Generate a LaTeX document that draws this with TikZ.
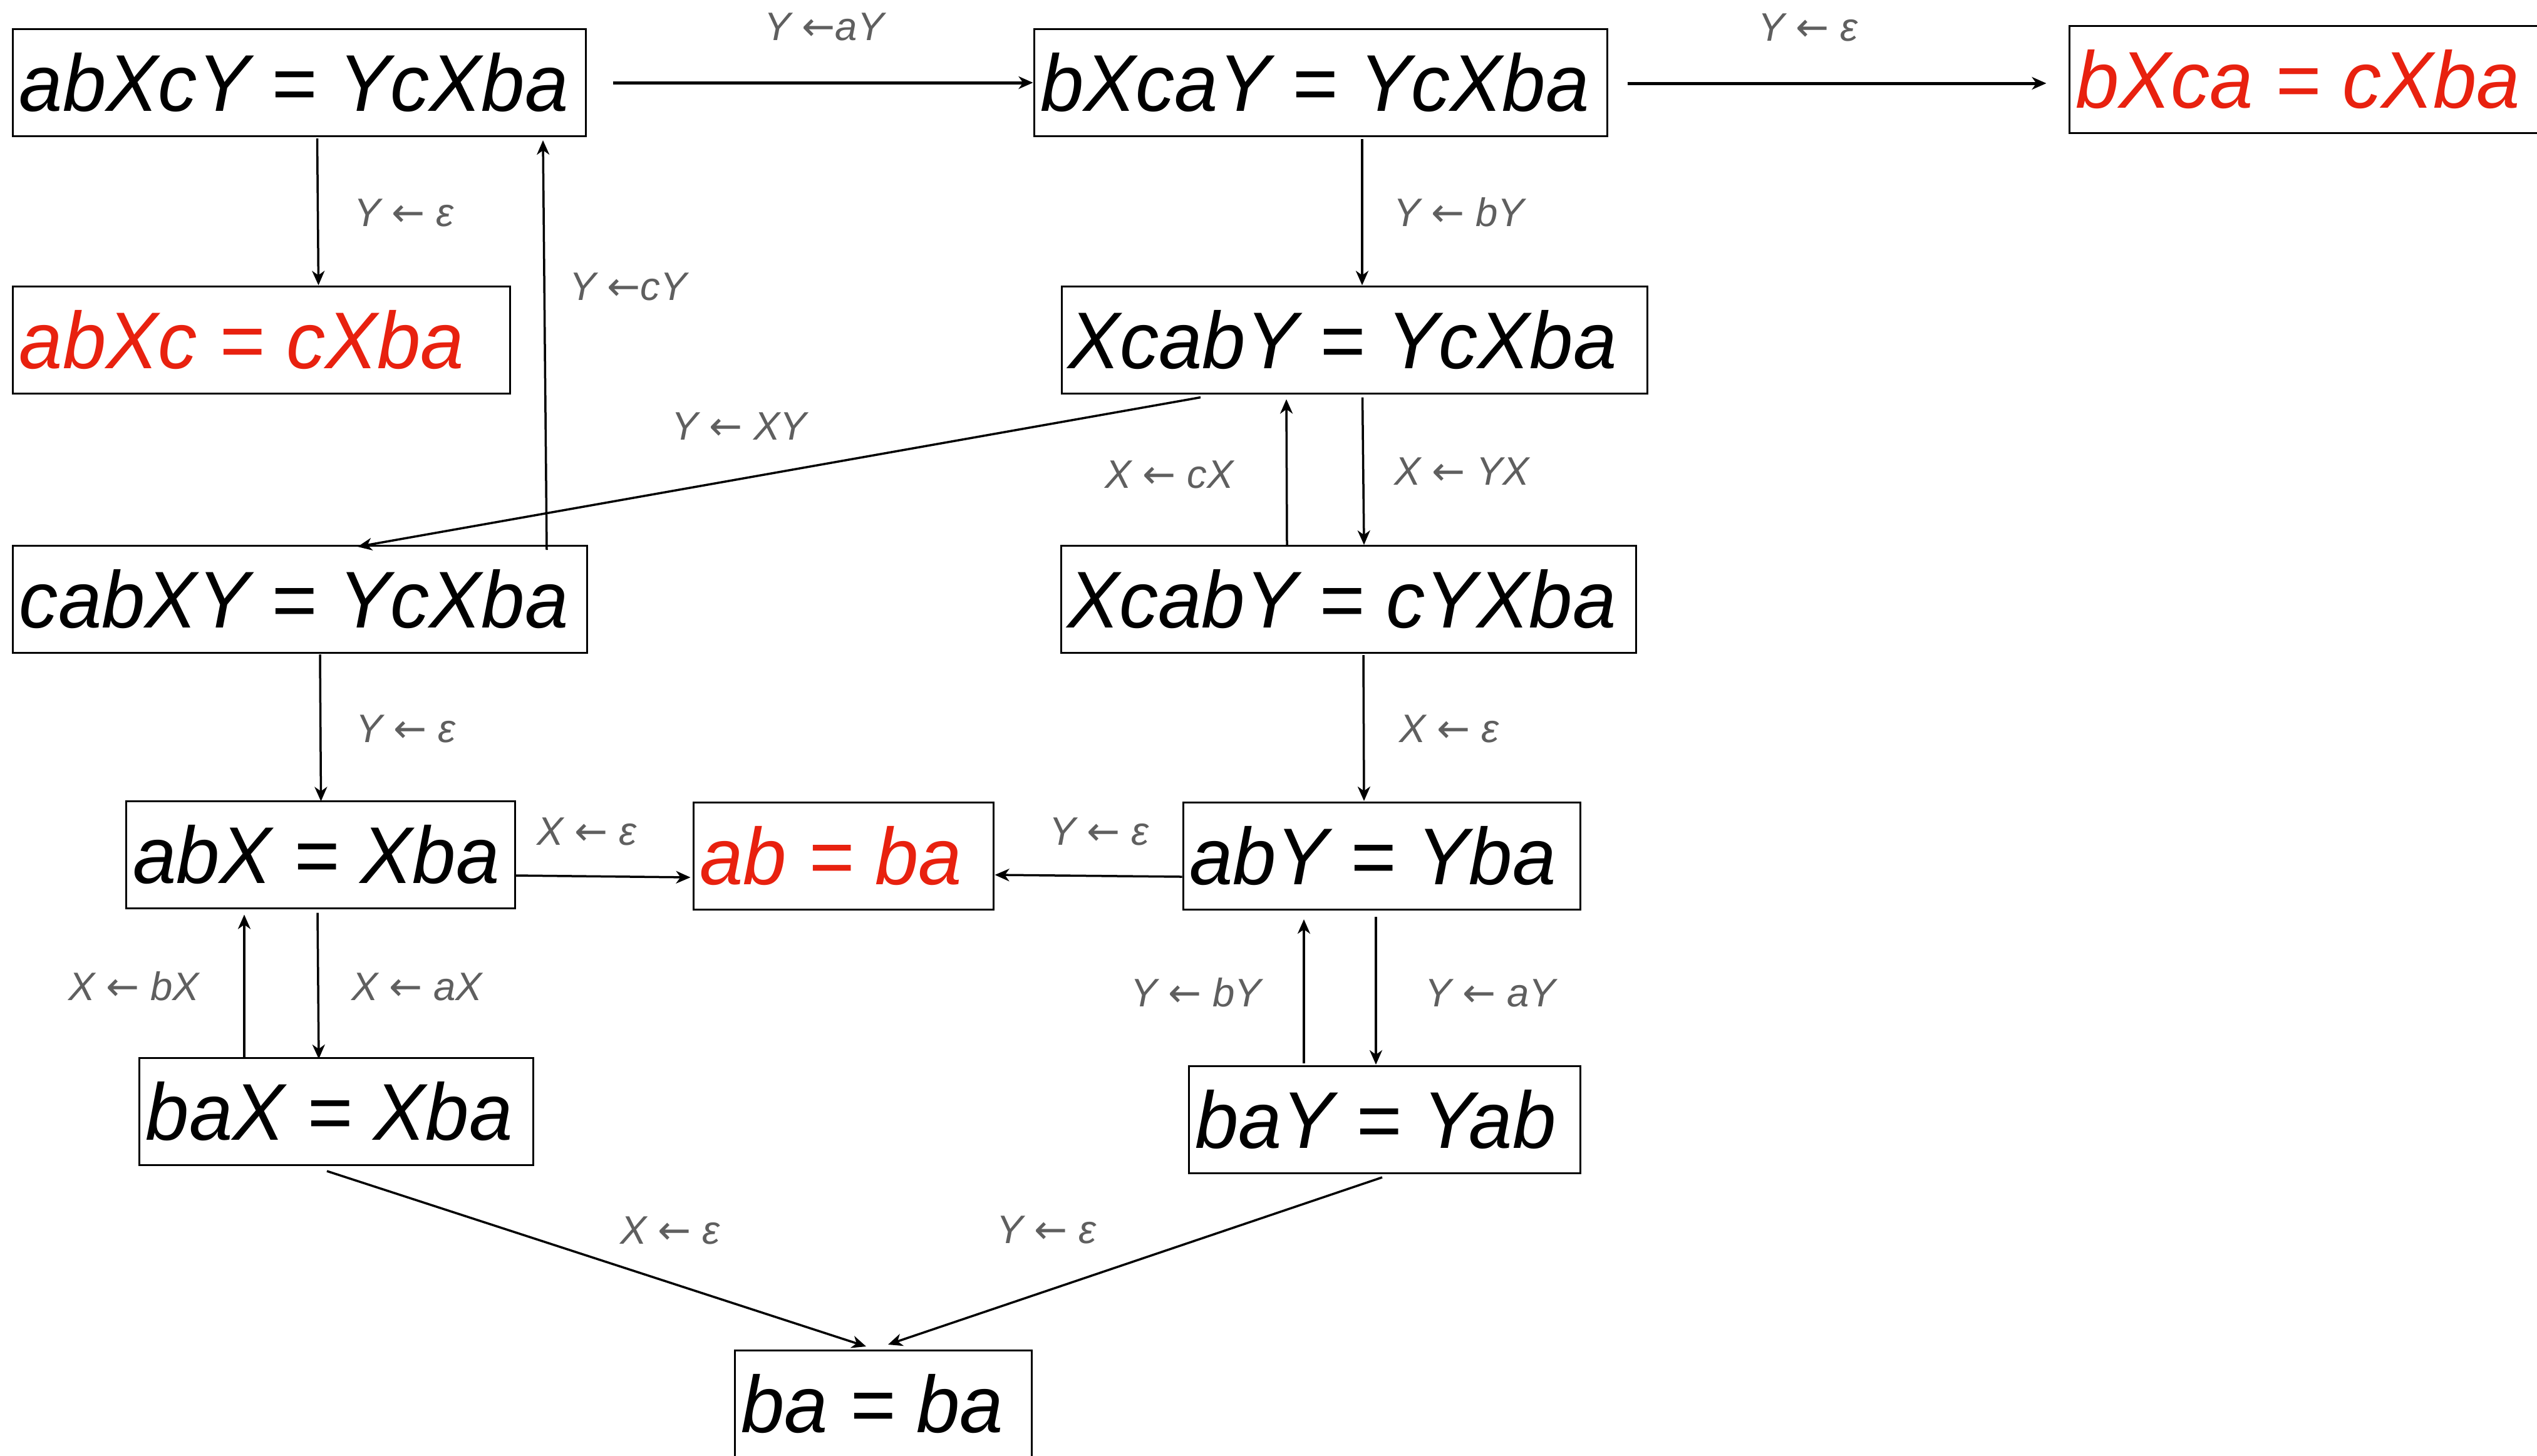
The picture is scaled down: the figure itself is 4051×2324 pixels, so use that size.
\documentclass[tikz,border=0pt]{standalone}
\usepackage{fontspec}
\setmainfont{Liberation Sans}
\newfontfamily\eqfont[FakeStretch=0.97]{Liberation Sans}
\newfontfamily\arrfont{DejaVu Sans}
\usetikzlibrary{arrows.meta,calc}
\definecolor{eqred}{RGB}{232,33,15}
\definecolor{lblgray}{RGB}{95,95,95}
\newcommand\lar{{\upshape\arrfont ←}}
\begin{document}
\begin{tikzpicture}[x=0.2pt,y=-0.2pt,
  eq/.style={draw, line width=0.6pt, inner xsep=2pt, inner ysep=0pt,
    minimum height=34.2pt, font=\eqfont\fontsize{25.7}{30}\selectfont\itshape},
  red/.style={text=eqred},
  lbl/.style={inner sep=0pt, text=lblgray, text height=9pt, text depth=0pt,
    font=\fontsize{12.7}{15}\selectfont\itshape},
  conn/.style={-{Stealth[length=4.6pt,width=4pt,inset=1.4pt]}, line width=0.7pt},
  connb/.style={conn, line width=1pt}]
\useasboundingbox (0,0) rectangle (4051,2324);
% equation boxes
\node[eq] (A) at (478,132)      {\makebox[178.8pt][l]{abXcY = YcXba}};
\node[eq] (B) at (2108.5,132)   {\makebox[179pt][l]{bXcaY = YcXba}};
\node[eq,red] (C) at (3692,127) {\makebox[151.2pt][l]{bXca = cXba}};
\node[eq,red] (D) at (417.5,542.5) {\makebox[154.6pt][l]{abXc = cXba}};
\node[eq] (E) at (2162.5,542.5) {\makebox[183pt][l]{XcabY = YcXba}};
\node[eq] (F) at (479,957)      {\makebox[179.2pt][l]{cabXY = YcXba}};
\node[eq] (G) at (2153,957)     {\makebox[179.6pt][l]{XcabY = cYXba}};
\node[eq] (H) at (512,1364.5)   {\makebox[120pt][l]{abX = Xba}};
\node[eq,red] (I) at (1346.5,1366.5) {\makebox[91.8pt][l]{ab = ba}};
\node[eq] (J) at (2206,1367)    {\makebox[122.8pt][l]{abY = Yba}};
\node[eq] (K) at (537,1775)     {\makebox[121.6pt][l]{baX = Xba}};
\node[eq] (L) at (2210.5,1788)  {\makebox[121pt][l]{baY = Yab}};
\node[eq] (M) at (1410,2242)    {\makebox[90.8pt][l]{ba = ba}};
% connectors
\draw[connb] ($(A.east)+(42,0)$) -- (B.west);
\draw[connb] ($(B.east)+(31,1)$) -- ($(C.west)+(-35,6)$);
\draw[conn] ($(A.south)+(28.5,2)$) -- ($(D.north)+(91,0)$);
\draw[conn] ($(F.north)+(394,8)$) -- ($(A.south)+(389,5)$);
\draw[conn] ($(B.south)+(66.5,3)$) -- ($(E.north)+(12.5,0)$);
\draw[conn] ($(E.south)+(-245.5,5)$) -- ($(F.north)+(92,3)$);
\draw[conn] ($(G.north)+(-98,0)$) -- ($(E.south)+(-108.5,8)$);
\draw[conn] ($(E.south)+(13,5)$) -- ($(G.north)+(25,0)$);
\draw[conn] ($(F.south)+(32,1)$) -- ($(H.north)+(0.5,2)$);
\draw[conn] ($(G.south)+(24,2)$) -- ($(J.north)+(-28,-1)$);
\draw[conn] ($(H.east)+(0,33.5)$) -- ($(I.west)+(-3,34.5)$);
\draw[conn] ($(J.west)+(0,33)$) -- ($(I.east)+(1,30.5)$);
\draw[conn] ($(K.north)+(-147,1)$) -- ($(H.south)+(-122,9)$);
\draw[conn] ($(H.south)+(-5,6)$) -- ($(K.north)+(-28,3)$);
\draw[conn] ($(L.north)+(-128.5,-3)$) -- ($(J.south)+(-124,14)$);
\draw[conn] ($(J.south)+(-9,10)$) -- ($(L.north)+(-13.5,-1)$);
\draw[conn] ($(K.south)+(-15,8)$) -- ($(M.north)+(-27,-5)$);
\draw[conn] ($(L.south)+(-3.5,5)$) -- ($(M.north)+(8,-8)$);
% labels
\node[lbl] (l1)  at (1316,42)   {Y \lar{}aY};
\node[lbl] (l2)  at (2887,43)   {Y \lar{} ε};
\node[lbl] (l3)  at (645,339)   {Y \lar{} ε};
\node[lbl] (l4)  at (1003,457)  {Y \lar{}cY};
\node[lbl] (l5)  at (2330,339)  {Y \lar{} bY};
\node[lbl] (l6)  at (1180,680)  {Y \lar{} XY};
\node[lbl] (l7)  at (1867,757)  {X \lar{} cX};
\node[lbl] (l8)  at (2334,752)  {X \lar{} YX};
\node[lbl] (l9)  at (648,1163)  {Y \lar{} ε};
\node[lbl] (l10) at (2314,1163) {X \lar{} ε};
\node[lbl] (l11) at (937,1327)  {X \lar{} ε};
\node[lbl] (l12) at (1755,1327) {Y \lar{} ε};
\node[lbl] (l13) at (214,1575)  {X \lar{} bX};
\node[lbl] (l14) at (666,1575)  {X \lar{} aX};
\node[lbl] (l15) at (1910,1585) {Y \lar{} bY};
\node[lbl] (l16) at (2380,1585) {Y \lar{} aY};
\node[lbl] (l17) at (1070,1964) {X \lar{} ε};
\node[lbl] (l18) at (1671,1963) {Y \lar{} ε};
\end{tikzpicture}
\end{document}
